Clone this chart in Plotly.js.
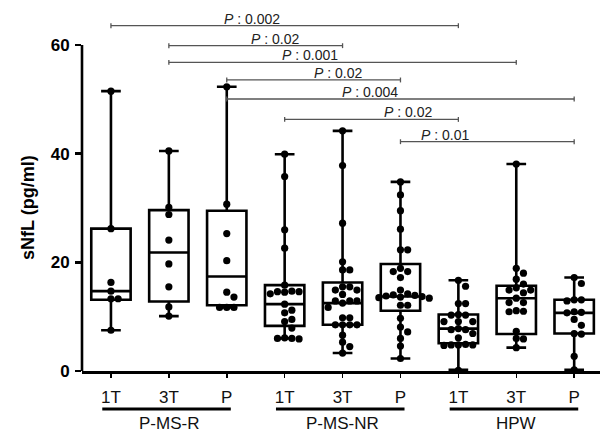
<!DOCTYPE html>
<html>
<head>
<meta charset="utf-8">
<script src="https://cdn.plot.ly/plotly-3.0.1.min.js"></script>
<style>html,body{margin:0;padding:0;background:#fff;}#chart{width:600px;height:434px;}</style>
</head>
<body>
<div id="chart"></div>
<script>
// ---- data ----
var tickLabels = ["1T", "3T", "P", "1T", "3T", "P", "1T", "3T", "P"];
var groupNames = ["P-MS-R", "P-MS-NR", "HPW"];

// box statistics (min, Q1, median, Q3, max) per column
var boxMin    = [7.5, 10.1, 11.7, 6.0, 3.3, 2.3, 0.2, 4.3, 0.2];
var boxQ1     = [13.1, 12.8, 12.1, 8.3, 8.5, 11.1, 5.1, 6.8, 6.9];
var boxMedian = [14.7, 21.8, 17.4, 12.3, 12.5, 13.7, 7.8, 13.4, 10.7];
var boxQ3     = [26.2, 29.6, 29.5, 15.8, 16.3, 19.7, 10.4, 15.7, 13.1];
var boxMax    = [51.5, 40.5, 52.3, 39.9, 44.2, 34.8, 16.7, 38.1, 17.2];

// individual values per column
var pts_MSR_1T = [51.5, 26.2, 16.3, 14.7, 13.3, 13.3, 7.5];
var pts_MSR_3T = [40.5, 30.1, 28.8, 24.1, 19.7, 15.5, 11.8, 10.1];
var pts_MSR_P  = [52.3, 30.7, 25.3, 20.3, 14.5, 13.6, 11.7, 11.7, 11.7];
var pts_NR_1T  = [39.9, 35.8, 26.0, 22.6, 15.8, 14.7, 14.6, 14.6, 14.5, 14.2, 12.3, 11.2, 10.7, 9.5, 9.1, 7.9, 6.1, 6.0, 6.0, 5.9];
var pts_NR_3T  = [44.2, 37.8, 27.2, 20.1, 18.6, 18.6, 15.5, 15.5, 14.9, 14.9, 14.1, 12.9, 12.9, 12.9, 12.5, 11.7, 9.8, 9.8, 8.5, 8.5, 8.5, 8.5, 6.6, 5.3, 4.5, 3.3];
var pts_NR_P   = [34.8, 32.4, 29.5, 26.1, 22.3, 22.3, 18.9, 18.3, 18.3, 17.2, 14.9, 14.2, 14.0, 13.9, 13.8, 13.7, 13.6, 13.5, 13.4, 12.1, 12.1, 9.7, 8.1, 7.2, 6.0, 4.6, 2.3];
var pts_HPW_1T = [16.7, 15.6, 12.4, 12.4, 10.4, 10.3, 10.3, 9.1, 9.1, 9.1, 7.8, 7.6, 7.6, 6.9, 6.1, 4.9, 4.8, 4.8, 4.8, 4.7, 0.1];
var pts_HPW_3T = [38.1, 18.9, 18.0, 16.9, 16.0, 15.3, 14.9, 14.9, 14.4, 13.4, 12.6, 12.6, 11.1, 11.0, 10.9, 7.3, 6.0, 5.9, 4.3];
var pts_HPW_P  = [17.2, 16.1, 13.1, 13.1, 12.9, 10.9, 10.8, 10.7, 9.5, 8.4, 6.9, 6.8, 2.7, 0.2];
var allPoints = [pts_MSR_1T, pts_MSR_3T, pts_MSR_P, pts_NR_1T, pts_NR_3T, pts_NR_P, pts_HPW_1T, pts_HPW_3T, pts_HPW_P];

// pairwise comparisons
var compFrom  = [0, 1, 1, 2, 2, 3, 5];
var compTo    = [6, 4, 7, 5, 8, 6, 8];
var compLevel = [63.55, 59.87, 56.8, 53.56, 50.06, 46.3, 42.2];
var compP     = ["0.002", "0.02", "0.001", "0.02", "0.004", "0.02", "0.01"];

// ---- layout constants ----
var W = 600, H = 434, ML = 82, MR = 0, MT = 12, MB = 63;
var xRange = [-0.5, 8.446], yRange = [0, 66.07];
var pxPerX = (W - ML - MR) / (xRange[1] - xRange[0]);
var pxPerY = (H - MT - MB) / (yRange[1] - yRange[0]);
var labelX = [2.44, 2.83, 3.44, 3.92, 4.47, 5.13, 5.77]; // annotation text centres

// deterministic beeswarm offsets
function swarm(vals, center) {
  var d = 7.2;
  var idx = vals.map(function (v, i) { return i; });
  idx.sort(function (a, b) { return vals[b] - vals[a]; });
  var placed = [];
  var xs = new Array(vals.length);
  idx.forEach(function (i) {
    var vy = vals[i] * pxPerY;
    var k = 0, off = 0;
    for (k = 0; k < 40; k++) {
      off = (k === 0) ? 0 : (k % 2 === 1 ? 1 : -1) * Math.ceil(k / 2) * d;
      var ok = placed.every(function (p) {
        var dx = p.x - off, dy = p.y - vy;
        return dx * dx + dy * dy >= d * d * 0.92;
      });
      if (ok) break;
    }
    placed.push({x: off, y: vy});
    xs[i] = center + off / pxPerX;
  });
  return xs;
}

var positions = tickLabels.map(function (t, i) { return i; });

var traces = [];
traces.push({
  type: "box",
  x: positions,
  q1: boxQ1, median: boxMedian, q3: boxQ3,
  lowerfence: boxMin, upperfence: boxMax,
  width: 0.68,
  whiskerwidth: 0.5,
  boxpoints: false,
  fillcolor: "rgba(0,0,0,0)",
  line: {color: "#000", width: 2.6},
  showlegend: false,
  hoverinfo: "skip"
});

allPoints.forEach(function (vals, i) {
  traces.push({
    type: "scatter",
    mode: "markers",
    x: swarm(vals, positions[i]),
    y: vals,
    cliponaxis: false,
    marker: {color: "#000", size: 7.2, line: {width: 0}},
    showlegend: false,
    hoverinfo: "skip"
  });
});

var shapes = [];
// y axis line from 0 to 60
shapes.push({type: "line", xref: "paper", yref: "y", x0: 0, x1: 0, y0: 0, y1: 60,
  line: {color: "#000", width: 2.6}});

// comparison brackets
compFrom.forEach(function (f, i) {
  var t = compTo[i], y = compLevel[i];
  var col = "#555";
  shapes.push({type: "line", xref: "x", yref: "y", x0: f, x1: t, y0: y, y1: y, line: {color: col, width: 1.3}});
  shapes.push({type: "line", xref: "x", yref: "y", x0: f, x1: f, y0: y - 0.45, y1: y + 0.45, line: {color: col, width: 1.3}});
  shapes.push({type: "line", xref: "x", yref: "y", x0: t, x1: t, y0: y - 0.45, y1: y + 0.45, line: {color: col, width: 1.3}});
});

// group underline bars
var barY = -(409 - (H - MB)) / (H - MT - MB);
var grpLabelY = -(423 - (H - MB)) / (H - MT - MB);
groupNames.forEach(function (g, gi) {
  shapes.push({type: "line", xref: "x", yref: "paper", x0: gi * 3 - 0.15, x1: gi * 3 + 2.07,
    y0: barY, y1: barY, line: {color: "#000", width: 2.8}});
});

var annotations = [];
compFrom.forEach(function (f, i) {
  annotations.push({
    xref: "x", yref: "y", x: labelX[i], y: compLevel[i],
    text: "<i>P</i> : " + compP[i], showarrow: false,
    xanchor: "center", yanchor: "bottom", yshift: -3,
    font: {family: "Liberation Sans, Arial, sans-serif", size: 14, color: "#222"}
  });
});
groupNames.forEach(function (g, gi) {
  annotations.push({
    xref: "x", yref: "paper", x: gi * 3 + 1, y: grpLabelY,
    text: g, showarrow: false, xanchor: "center", yanchor: "middle",
    font: {family: "Liberation Sans, Arial, sans-serif", size: 17, color: "#111"}
  });
});
annotations.push({
  xref: "paper", yref: "y", x: (28 - ML) / (W - ML - MR), y: 30,
  text: "<b>sNfL (pg/ml)</b>", showarrow: false, textangle: -90,
  xanchor: "center", yanchor: "middle",
  font: {family: "Liberation Sans, Arial, sans-serif", size: 18, color: "#000"}
});

var layout = {
  width: W, height: H,
  margin: {l: ML, r: MR, t: MT, b: MB, pad: 0},
  paper_bgcolor: "#fff", plot_bgcolor: "#fff",
  showlegend: false,
  xaxis: {
    range: xRange, tickmode: "array", tickvals: positions, ticktext: tickLabels,
    ticks: "outside", ticklen: 4, tickwidth: 1.5, tickcolor: "#000",
    showline: true, linecolor: "#000", linewidth: 2.6,
    showgrid: false, zeroline: false, fixedrange: true,
    ticklabelstandoff: 5,
    tickfont: {family: "Liberation Sans, Arial, sans-serif", size: 17, color: "#111"}
  },
  yaxis: {
    range: yRange, tickmode: "array", tickvals: [0, 20, 40, 60], ticktext: ["0", "20", "40", "60"],
    ticks: "outside", ticklen: 6, tickwidth: 2.6, tickcolor: "#000",
    showline: false, showgrid: false, zeroline: false, fixedrange: true,
    ticklabelstandoff: 2,
    tickfont: {family: "Liberation Sans, Arial, sans-serif", size: 17, color: "#000", weight: "bold"}
  },
  shapes: shapes,
  annotations: annotations
};

Plotly.newPlot("chart", traces, layout, {staticPlot: true, displayModeBar: false});
</script>
</body>
</html>
